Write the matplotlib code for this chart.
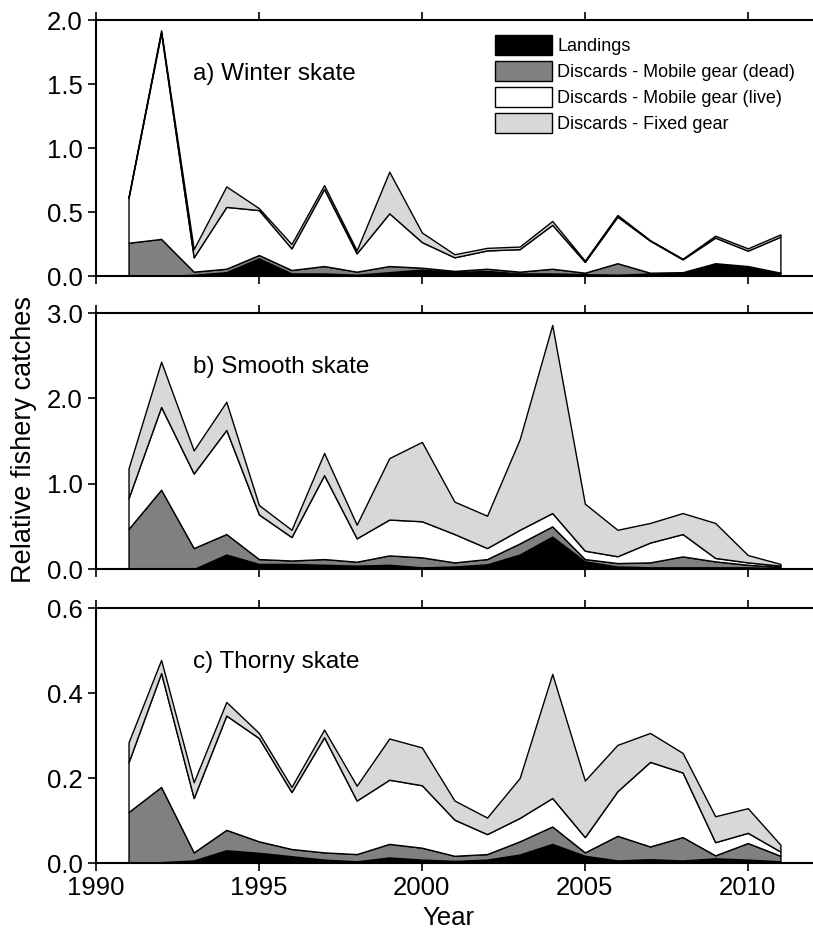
import matplotlib
matplotlib.use("Agg")
import matplotlib.pyplot as plt
from matplotlib.patches import Patch
from matplotlib.ticker import FormatStrFormatter

plt.rcParams['font.family'] = ['Liberation Sans', 'DejaVu Sans']

years = list(range(1991, 2012))

# a) Winter skate
winter_land = [0.00, 0.00, 0.010, 0.030, 0.138, 0.020, 0.020, 0.010, 0.030, 0.050, 0.030,
               0.040, 0.020, 0.020, 0.015, 0.010, 0.020, 0.025, 0.098, 0.075, 0.020]
winter_dead = [0.26, 0.29, 0.024, 0.027, 0.026, 0.027, 0.058, 0.024, 0.048, 0.015, 0.010,
               0.017, 0.014, 0.037, 0.011, 0.090, 0.006, 0.005, 0.002, 0.003, 0.006]
winter_live = [0.35, 1.61, 0.112, 0.483, 0.351, 0.169, 0.602, 0.143, 0.412, 0.200, 0.106,
               0.143, 0.176, 0.343, 0.084, 0.364, 0.250, 0.100, 0.200, 0.120, 0.281]
winter_fixed = [0.01, 0.02, 0.064, 0.160, 0.015, 0.034, 0.030, 0.023, 0.325, 0.075, 0.024,
                0.020, 0.020, 0.030, 0.010, 0.013, 0.004, 0.005, 0.015, 0.018, 0.018]

# b) Smooth skate
smooth_land = [0.00, 0.00, 0.00, 0.17, 0.06, 0.06, 0.05, 0.04, 0.05, 0.02, 0.03,
               0.055, 0.17, 0.38, 0.09, 0.03, 0.02, 0.02, 0.02, 0.02, 0.01]
smooth_dead = [0.47, 0.93, 0.246, 0.24, 0.057, 0.04, 0.067, 0.046, 0.11, 0.117, 0.048,
               0.062, 0.13, 0.12, 0.027, 0.04, 0.058, 0.128, 0.07, 0.03, 0.015]
smooth_live = [0.36, 0.97, 0.874, 1.22, 0.523, 0.275, 0.983, 0.274, 0.42, 0.423, 0.332,
               0.129, 0.16, 0.156, 0.098, 0.08, 0.232, 0.262, 0.04, 0.028, 0.015]
smooth_fixed = [0.35, 0.53, 0.27, 0.33, 0.11, 0.085, 0.26, 0.16, 0.72, 0.93, 0.38,
                0.379, 1.06, 2.204, 0.551, 0.31, 0.23, 0.246, 0.41, 0.086, 0.02]

# c) Thorny skate
thorny_land = [0.000, 0.002, 0.006, 0.030, 0.024, 0.016, 0.008, 0.004, 0.013, 0.008, 0.005,
               0.008, 0.020, 0.045, 0.017, 0.006, 0.009, 0.006, 0.011, 0.008, 0.004]
thorny_dead = [0.120, 0.177, 0.019, 0.048, 0.027, 0.017, 0.017, 0.017, 0.032, 0.028, 0.012,
               0.013, 0.031, 0.041, 0.008, 0.058, 0.030, 0.055, 0.007, 0.039, 0.013]
thorny_live = [0.117, 0.268, 0.128, 0.269, 0.243, 0.134, 0.271, 0.126, 0.151, 0.147, 0.085,
               0.047, 0.055, 0.067, 0.036, 0.105, 0.199, 0.152, 0.031, 0.024, 0.010]
thorny_fixed = [0.047, 0.031, 0.037, 0.032, 0.012, 0.012, 0.018, 0.035, 0.097, 0.089, 0.045,
                0.039, 0.094, 0.292, 0.133, 0.109, 0.068, 0.046, 0.061, 0.058, 0.016]

layer_names = ["Landings", "Discards - Mobile gear (dead)",
               "Discards - Mobile gear (live)", "Discards - Fixed gear"]
layer_colors = ["black", "#808080", "white", "#d8d8d8"]

panels = [
    ("a) Winter skate", [winter_land, winter_dead, winter_live, winter_fixed], 2.0, 0.5),
    ("b) Smooth skate", [smooth_land, smooth_dead, smooth_live, smooth_fixed], 3.0, 1.0),
    ("c) Thorny skate", [thorny_land, thorny_dead, thorny_live, thorny_fixed], 0.6, 0.2),
]

fig = plt.figure(figsize=(8.13, 9.35), dpi=100)
# [left, bottom, width, height] for each panel
boxes = [
    [0.118, 0.7048, 0.882, 0.2738],
    [0.118, 0.3914, 0.882, 0.2738],
    [0.118, 0.0770, 0.882, 0.2727],
]

for i, (label, layers, ymax, ystep) in enumerate(panels):
    ax = fig.add_axes(boxes[i])
    ax.stackplot(years, *layers, colors=layer_colors, edgecolor="black", linewidth=1.0)
    ax.set_xlim(1990, 2012)
    ax.set_ylim(0, ymax)
    n = int(round(ymax / ystep))
    ax.set_yticks([ystep * k for k in range(n + 1)])
    ax.yaxis.set_major_formatter(FormatStrFormatter("%.1f"))
    ax.set_xticks([1990, 1995, 2000, 2005, 2010])
    ax.spines["right"].set_visible(False)
    for s in ["left", "top", "bottom"]:
        ax.spines[s].set_linewidth(1.5)
    ax.tick_params(axis="both", direction="out", length=6, width=1.2, labelsize=18.5)
    ax.tick_params(axis="x", top=True, bottom=True)
    if i < 2:
        ax.tick_params(axis="x", labelbottom=False)
    ax.text(0.135, 0.79, label, transform=ax.transAxes, fontsize=17.5,
            ha="left", va="center")
    if i == 0:
        handles = [Patch(facecolor=c, edgecolor="black", linewidth=1.0) for c in layer_colors]
        ax.legend(handles, layer_names, loc="upper left", bbox_to_anchor=(0.557, 0.94),
                  frameon=False, fontsize=13, handlelength=3.15, handleheight=1.3,
                  handletextpad=0.28, labelspacing=0.34, borderaxespad=0, borderpad=0)

fig.text(0.03, 0.53, "Relative fishery catches", rotation=90, fontsize=19.5,
         ha="center", va="center")
fig.text(0.551, 0.018, "Year", fontsize=18.5, ha="center", va="center")

fig.savefig("out.png", dpi=100)
